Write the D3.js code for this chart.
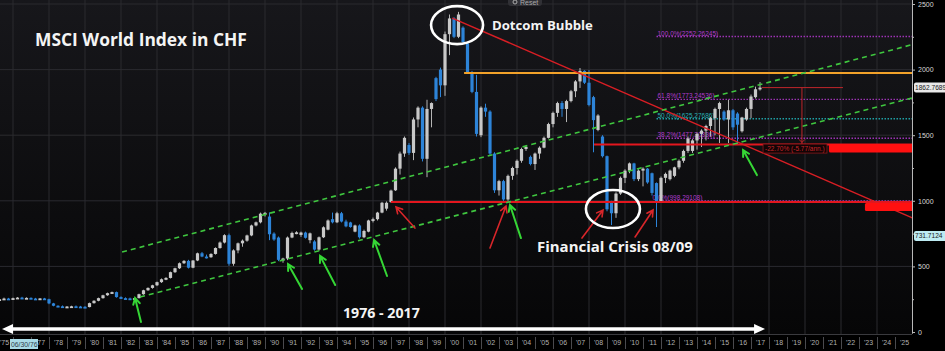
<!DOCTYPE html>
<html>
<head>
<meta charset="utf-8">
<script src="https://cdn.jsdelivr.net/npm/d3@7/dist/d3.min.js"></script>
<style>
html,body{margin:0;padding:0;background:#000;overflow:hidden;}
svg{display:block;}
</style>
</head>
<body>
<svg id="chart" width="945" height="351"></svg>
<script>
// ================= DATA =================
// quarterly candles, first candle = Q1 1975
const firstYear = 1975;
const open = [
 240,250,255,250, 258,262,258,260, 255,252,256,250, 218,200,196,192, 194,196,194,192,
 190,220,238,258, 280,296,304,266, 258,256,254,258, 288,318,336,356, 380,402,412,456,
 486,524,542,490, 545,600,575,570, 595,640,682,738, 520,622,676,696, 736,812,836,902,
 880,750,720,545, 560,720,755,740, 758,700,690,628, 722,780,860,836, 905,842,835,765,
 812,722,765,850, 860,910,940,990, 1080,1245,1360,1425, 1365,1620,1710,1320, 1700,1935,2000,1880,
 2270,2390,2250,2320, 2200,1975,1830,1500, 1710,1680,1360,1080, 1150,1010,1190,1250, 1305,1395,1335,1280,
 1360,1405,1480,1585, 1670,1745,1700,1760, 1835,1910,1990,1900, 1790,1540,1490,1340, 985,905,1055,1175,
 1230,1285,1165,1230, 1245,1210,1135,995, 1175,1165,1190,1255, 1305,1380,1380,1460, 1510,1535,1570,1630,
 1700,1680,1620,1690, 1665,1530,1620,1700, 1790,1850
];
const high = [
 255,262,260,262, 266,268,264,264, 260,258,260,254, 222,204,202,198, 200,202,199,197,
 224,242,262,284, 300,308,308,272, 264,262,260,292, 322,340,360,384, 408,418,460,490,
 530,548,550,548, 605,610,590,600, 645,690,745,750, 630,682,705,742, 818,842,910,915,
 912,760,728,566, 728,765,768,765, 765,758,700,728, 805,858,910,916, 915,856,840,818,
 820,780,856,872, 916,992,995,1085, 1255,1375,1490,1440, 1635,1720,1720,1770, 1750,1945,2015,2290,
 2420,2400,2440,2330, 2210,1990,1960,1720, 1740,1690,1370,1160, 1160,1200,1260,1315, 1405,1420,1345,1368,
 1415,1490,1595,1680, 1755,1760,1770,1845, 1920,2012,1995,1996, 1800,1660,1500,1345, 1000,1065,1185,1240,
 1292,1290,1240,1255, 1250,1215,1140,1185, 1215,1238,1260,1315, 1390,1490,1470,1520, 1545,1580,1640,1710,
 1755,1690,1770,1700, 1675,1640,1710,1810, 1870,1905
];
const low = [
 235,245,246,248, 254,255,252,250, 248,248,246,212, 196,190,188,186, 188,190,188,186,
 188,216,234,254, 276,290,262,254, 250,248,246,256, 284,314,330,350, 374,395,408,450,
 480,518,484,486, 540,570,560,565, 590,635,675,505, 505,600,650,688, 730,805,828,880,
 700,695,540,528, 548,715,745,725, 712,676,620,620, 716,775,828,830, 835,798,795,760,
 712,715,760,835, 850,905,925,985, 1075,1200,1335,1350, 1310,1560,1300,1180, 1560,1760,1790,1800,
 2110,2240,2240,2200, 1970,1820,1490,1485, 1640,1345,1060,1040, 1000,1000,1160,1200, 1290,1380,1270,1235,
 1320,1400,1475,1560, 1640,1640,1600,1750, 1790,1860,1890,1720, 1370,1530,1330,920, 815,870,1045,1135,
 1210,1150,1150,1110, 1130,1040,800,985, 1135,1155,1180,1240, 1290,1365,1365,1390, 1410,1460,1490,1500,
 1440,1610,1440,1540, 1425,1520,1610,1630, 1780,1840
];
const close = [
 250,255,250,258, 262,258,260,255, 252,256,250,218, 200,196,192,194, 196,194,192,190,
 220,238,258,280, 296,304,266,258, 256,254,258,288, 318,336,356,380, 402,412,456,486,
 524,542,490,545, 600,575,570,595, 640,682,738,520, 622,676,696,736, 812,836,902,908,
 745,705,550,560, 720,755,760,758, 718,752,628,722, 798,850,836,905, 842,805,800,812,
 722,770,850,860, 910,985,985,1078, 1245,1360,1480,1365, 1620,1710,1320,1700, 1745,1775,1880,2270,
 2390,2250,2420,2210, 1980,1830,1510,1710, 1680,1360,1080,1150, 1010,1190,1250,1305, 1395,1410,1280,1360,
 1405,1480,1585,1670, 1745,1700,1760,1835, 1910,1990,1900,1730, 1615,1650,1340,935, 905,1055,1175,1230,
 1285,1165,1230,1245, 1140,1060,995,1175, 1205,1230,1255,1305, 1380,1475,1460,1510, 1535,1570,1630,1700,
 1745,1620,1690,1560, 1580,1635,1700,1795, 1850,1862.77
];

const yearLabels = d3.range(1975, 2026);
const hiddenYearLabels = [1976]; // covered by the cursor date tag in the reference
const gridYears = d3.range(1976, 2026, 2);
const valueTicks = [0, 500, 1000, 1500, 2000, 2500];
const minorValueTicks = [250, 750, 1250, 1750, 2250];
const lastPrice = 1862.7689;
const cursorPrice = 731.7124;
const cursorDate = "06/30/76";

const fibNames = ["100.0%", "61.8%", "50.0%", "38.2%", "0.0%"];
const fibValues = [2252.26245, 1773.24536, 1625.27686, 1477.30836, 998.29108];
const fibStart = 2011.75;

const upperChannel = [[1982.06, 610], [2026, 2192]];
const lowerChannel = [[1983.06, 267], [2026, 1785]];
const dotcomTrend  = [[2000.4, 2393], [2026, 868]];
const support1000  = [[1997.0, 990], [2026, 990]];
const support1430  = [[2008.28, 1430], [2026, 1430]];
const resistance   = [[2001.06, 1974], [2026, 1974]];

// arrows: [tailYear, tailValue, headYear, headValue]
const greenArrows = [
 [1983.11, 76, 1982.78, 259],
 [1992.06, 328, 1991.28, 518],
 [1993.90, 358, 1993.06, 580],
 [1996.78, 427, 1996.06, 701],
 [2004.22, 716, 2003.61, 968],
 [2017.33, 1196, 2016.56, 1387]
];
const redArrows = [
 [1998.33, 792, 1997.28, 953],
 [2002.50, 640, 2003.39, 960],
 [2007.61, 716, 2008.78, 930],
 [2010.56, 724, 2011.56, 930]
];
const circleCenters = [[2000.67, 2339], [2009.33, 937]];

const titleText = "MSCI World Index in CHF";
const noteTexts = ["Dotcom Bubble", "Financial Crisis 08/09", "1976 - 2017"];
const notePos = [[2002.61, 2301], [2005.11, 610], [1994.33, 107]];
const periodArrow = [1975.39, 2017.78, 23];

const measureYear = 2019.83;
const measureTop = [2017.61, 2022.11];
const measureLabel = "-22.70% (-5.77/ann.)";
const measureLabelSpan = [2017.67, 2021.22, 1398];
const redZones = [[2021.33, 2026, 1368, 1433], [2023.33, 2026, 922, 983]];

// ================= CHART =================
const W = 945, H = 351;
const x = d3.scaleLinear().domain([1982, 2026]).range([121, 913]);
const y = d3.scaleLinear().domain([0, 2500]).range([332, 4]);
const plotRight = 912;

const svg = d3.select("#chart");
const defs = svg.append("defs");
const grad = defs.append("linearGradient").attr("id", "bg").attr("x1", 0).attr("y1", 0).attr("x2", 0).attr("y2", 1);
grad.append("stop").attr("offset", "0%").attr("stop-color", "#17171b");
grad.append("stop").attr("offset", "100%").attr("stop-color", "#060607");
defs.append("clipPath").attr("id", "plot").append("rect").attr("x", 0).attr("y", 0).attr("width", plotRight).attr("height", 334);

svg.append("rect").attr("width", W).attr("height", H).attr("fill", "#000");
svg.append("rect").attr("width", plotRight).attr("height", 334).attr("fill", "url(#bg)");

const g = svg.append("g").attr("clip-path", "url(#plot)");

// grid
g.selectAll(".vg").data(gridYears).join("line")
  .attr("x1", d => x(d)).attr("x2", d => x(d)).attr("y1", 0).attr("y2", 334)
  .attr("stroke", "#2a2a2f").attr("stroke-width", 1);
g.selectAll(".hg").data(valueTicks.filter(v => v > 0)).join("line")
  .attr("x1", 0).attr("x2", plotRight).attr("y1", d => y(d)).attr("y2", d => y(d))
  .attr("stroke", "#2a2a2f").attr("stroke-width", 1);

// fibonacci levels
fibValues.forEach((v, i) => {
  const col = i === 2 ? "#1f9fa3" : "#9d33b5";
  g.append("line").attr("x1", x(fibStart)).attr("x2", plotRight)
    .attr("y1", y(v)).attr("y2", y(v))
    .attr("stroke", col).attr("stroke-width", 1.4).attr("stroke-dasharray", "1.5,1.5");
  g.append("text").attr("x", x(fibStart) - (i === 4 ? 4 : -1)).attr("y", y(v) - 1)
    .attr("font-family", "Liberation Sans, Arial, sans-serif").attr("font-size", 6.5)
    .attr("fill", i === 2 ? "#2ab0b4" : "#b03ccc")
    .text(fibNames[i] + "(" + v.toFixed(5) + ")");
});

// candles
const candles = close.map((c, i) => ({
  t: firstYear + (i + 1) * 0.25, o: open[i], h: high[i], l: low[i], c: c
}));
const upCol = "#c8c8c8", downCol = "#2d84d8";
const cg = g.append("g");
cg.selectAll(".wick").data(candles).join("line")
  .attr("x1", d => x(d.t)).attr("x2", d => x(d.t))
  .attr("y1", d => y(d.h)).attr("y2", d => y(d.l))
  .attr("stroke", d => d.c >= d.o ? "#b5b5b5" : downCol).attr("stroke-width", 1);
cg.selectAll(".body").data(candles).join("rect")
  .attr("x", d => x(d.t) - 1.6).attr("width", 3.2)
  .attr("y", d => y(Math.max(d.o, d.c)))
  .attr("height", d => Math.max(1.8, Math.abs(y(d.o) - y(d.c))))
  .attr("fill", d => d.c >= d.o ? upCol : downCol);

// lines
const line = d3.line().x(d => x(d[0])).y(d => y(d[1]));
g.append("path").attr("d", line(resistance)).attr("stroke", "#f2a22a").attr("stroke-width", 2).attr("fill", "none");
g.append("path").attr("d", line(support1000)).attr("stroke", "#e3161e").attr("stroke-width", 2).attr("fill", "none");
g.append("path").attr("d", line(support1430)).attr("stroke", "#e3161e").attr("stroke-width", 2).attr("fill", "none");
g.append("path").attr("d", line(dotcomTrend)).attr("stroke", "#d81e24").attr("stroke-width", 1.4).attr("fill", "none");
[upperChannel, lowerChannel].forEach(ch => {
  g.append("path").attr("d", line(ch)).attr("stroke", "#3fc63f").attr("stroke-width", 1.6)
    .attr("stroke-dasharray", "5,4").attr("fill", "none");
});

// red zones
redZones.forEach(z => {
  g.append("rect").attr("x", x(z[0])).attr("width", x(z[1]) - x(z[0]))
    .attr("y", y(z[3])).attr("height", y(z[2]) - y(z[3]))
    .attr("rx", 1.5).attr("fill", "#ff1010");
});

// measurement tool
g.append("line").attr("x1", x(measureTop[0])).attr("x2", x(measureTop[1]))
  .attr("y1", y(lastPrice)).attr("y2", y(lastPrice)).attr("stroke", "#c0262a").attr("stroke-width", 1);
g.append("line").attr("x1", x(measureYear)).attr("x2", x(measureYear))
  .attr("y1", y(lastPrice)).attr("y2", y(1430)).attr("stroke", "#c0262a").attr("stroke-width", 1);
g.append("path").attr("d", `M${x(measureYear)-3},${y(1430)-5}L${x(measureYear)},${y(1430)-2}L${x(measureYear)+3},${y(1430)-5}`)
  .attr("stroke", "#c0262a").attr("fill", "none").attr("stroke-width", 1);
const mly = y(measureLabelSpan[2]);
g.append("rect").attr("x", x(measureLabelSpan[0])).attr("width", x(measureLabelSpan[1]) - x(measureLabelSpan[0]))
  .attr("y", mly - 4.5).attr("height", 9).attr("fill", "#120405").attr("stroke", "#8a1a1c").attr("stroke-width", 0.8);
g.append("text").attr("x", x(measureLabelSpan[0]) + 2).attr("y", mly + 2.5)
  .attr("font-family", "Liberation Sans, Arial, sans-serif").attr("font-size", 6.5)
  .attr("fill", "#c8262a").text(measureLabel);

// arrows
function drawArrow(a, col, w) {
  const x1 = x(a[0]), y1 = y(a[1]), x2 = x(a[2]), y2 = y(a[3]);
  const ang = Math.atan2(y2 - y1, x2 - x1), L = 7, s = 0.5;
  const p1 = [x2 - L * Math.cos(ang - s), y2 - L * Math.sin(ang - s)];
  const p2 = [x2 - L * Math.cos(ang + s), y2 - L * Math.sin(ang + s)];
  g.append("path").attr("d", `M${x1},${y1}L${x2},${y2}M${p1[0]},${p1[1]}L${x2},${y2}L${p2[0]},${p2[1]}`)
    .attr("stroke", col).attr("stroke-width", w).attr("fill", "none").attr("stroke-linecap", "round");
}
greenArrows.forEach(a => drawArrow(a, "#35d635", 2));
redArrows.forEach(a => drawArrow(a, "#d8262a", 1.6));

// ellipses
const radii = [[26, 19], [27, 19]];
circleCenters.forEach((c, i) => {
  g.append("ellipse").attr("cx", x(c[0])).attr("cy", y(c[1]))
    .attr("rx", radii[i][0]).attr("ry", radii[i][1])
    .attr("fill", "none").attr("stroke", "#ffffff").attr("stroke-width", 2.6);
});

// period arrow
const pa1 = x(periodArrow[0]), pa2 = x(periodArrow[1]), pay = y(periodArrow[2]);
svg.append("line").attr("x1", pa1 + 8).attr("x2", pa2 - 8).attr("y1", pay).attr("y2", pay)
  .attr("stroke", "#fff").attr("stroke-width", 3.5);
svg.append("path").attr("d", `M${pa1},${pay}L${pa1+11},${pay-5}L${pa1+11},${pay+5}Z`).attr("fill", "#fff");
svg.append("path").attr("d", `M${pa2},${pay}L${pa2-11},${pay-5}L${pa2-11},${pay+5}Z`).attr("fill", "#fff");

// texts
function fit(sel, w) {
  const l = sel.node().getComputedTextLength();
  sel.attr("font-size", parseFloat(sel.attr("font-size")) * w / l);
}
const boldFont = "Open Sans, Lato, Arial, sans-serif";
const title = svg.append("text").attr("x", 35).attr("y", 46).attr("font-family", boldFont)
  .attr("font-weight", 700).attr("font-size", 18).attr("fill", "#f4f4f4").text(titleText);
fit(title, 212);
const noteWidths = [101, 156, 77];
noteTexts.forEach((t, i) => {
  const s = svg.append("text").attr("x", x(notePos[i][0])).attr("y", y(notePos[i][1]))
    .attr("font-family", boldFont).attr("font-weight", 700).attr("font-size", 14)
    .attr("fill", "#f4f4f4").text(t);
  fit(s, noteWidths[i]);
});

// Reset button
svg.append("rect").attr("x", 508).attr("y", -5).attr("width", 34).attr("height", 11).attr("rx", 3).attr("fill", "#303035");
svg.append("circle").attr("cx", 515).attr("cy", 2).attr("r", 2).attr("fill", "none").attr("stroke", "#aaa").attr("stroke-width", 1);
svg.append("text").attr("x", 520).attr("y", 5).attr("font-family", "Liberation Sans, Arial, sans-serif")
  .attr("font-size", 7).attr("fill", "#a8a8a8").text("Reset");

// right axis
const axG = svg.append("g").attr("transform", `translate(${plotRight},0)`);
axG.call(d3.axisRight(y).tickValues(valueTicks).tickSize(3).tickPadding(3).tickFormat(d3.format("d")));
const axMinor = svg.append("g").attr("transform", `translate(${plotRight},0)`);
axMinor.call(d3.axisRight(y).tickValues(minorValueTicks).tickSize(2).tickFormat(""));
[axG, axMinor].forEach(a => {
  a.select(".domain").attr("stroke", "#b8b8b8").attr("d", `M0.5,0V333.5`);
  a.selectAll(".tick line").attr("stroke", "#b8b8b8");
  a.selectAll("text").attr("fill", "#d8d8d8").attr("font-family", "Liberation Sans, Arial, sans-serif").attr("font-size", 7);
});

// price labels
function priceTag(v, txt, fill) {
  const yy = y(v);
  svg.append("rect").attr("x", plotRight + 2).attr("y", yy - 5).attr("width", 40).attr("height", 10)
    .attr("rx", 2).attr("fill", fill);
  svg.append("text").attr("x", plotRight + 3).attr("y", yy + 2.5)
    .attr("font-family", "Liberation Sans, Arial, sans-serif").attr("font-size", 6.6)
    .attr("fill", "#202020").text(txt);
}
priceTag(lastPrice, lastPrice.toFixed(4), "#e8e8e8");
priceTag(cursorPrice, cursorPrice.toFixed(4), "#bdebf2");

// bottom axis
svg.append("line").attr("x1", 0).attr("x2", plotRight).attr("y1", 334.5).attr("y2", 334.5).attr("stroke", "#3a3a3e");
const xb = svg.append("g").attr("transform", "translate(0,337)");
xb.call(d3.axisBottom(x).tickValues(yearLabels).tickSize(12).tickFormat(""));
xb.select(".domain").remove();
xb.selectAll(".tick line").attr("stroke", "#4a4a4e");
const xl = svg.append("g").attr("transform", "translate(0,338)");
xl.call(d3.axisBottom(x).tickValues(yearLabels.filter(v => !hiddenYearLabels.includes(v)).map(v => v + 0.5))
  .tickSize(0).tickPadding(2)
  .tickFormat(d => "'" + String(Math.floor(d)).slice(2)));
xl.select(".domain").remove();
xl.selectAll("text").attr("fill", "#b0b0b0").attr("font-family", "Liberation Sans, Arial, sans-serif").attr("font-size", 7);

// cursor date tag
svg.append("rect").attr("x", 10).attr("y", 339).attr("width", 28).attr("height", 10).attr("fill", "#a9dbe6");
svg.append("text").attr("x", 11).attr("y", 346.5).attr("font-family", "Liberation Sans, Arial, sans-serif")
  .attr("font-size", 6.8).attr("fill", "#304048").text(cursorDate);
</script>
</body>
</html>
